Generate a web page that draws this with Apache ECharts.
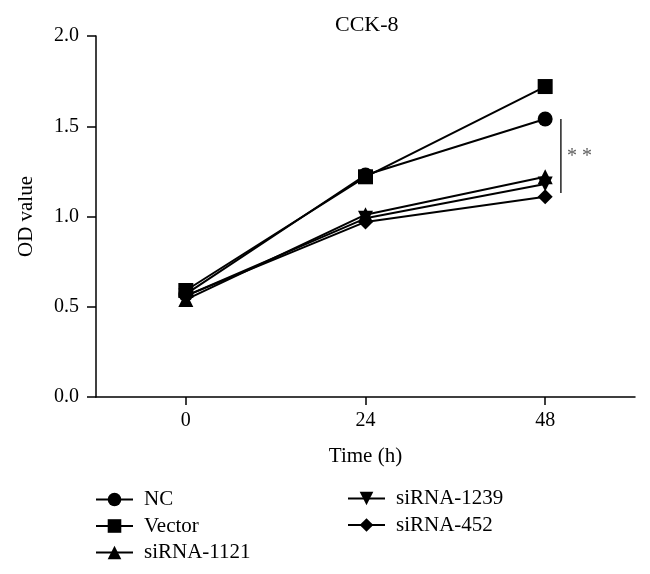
<!DOCTYPE html>
<html>
<head>
<meta charset="utf-8">
<script src="https://cdn.jsdelivr.net/npm/echarts@6/dist/echarts.min.js"></script>
<style>html,body{margin:0;padding:0;background:#fff}#c{width:650px;height:574px}</style>
</head>
<body>
<div id="c"></div>
<script>
const times = [0, 24, 48];
const xTicks = [0, 24, 48];
const yTicks = [0, 0.5, 1.0, 1.5, 2.0];
const seriesNames = ['NC', 'Vector', 'siRNA-1121', 'siRNA-1239', 'siRNA-452'];
const ncValues = [0.57, 1.23, 1.54];
const vectorValues = [0.59, 1.22, 1.72];
const si1121Values = [0.54, 1.01, 1.22];
const si1239Values = [0.56, 0.99, 1.18];
const si452Values = [0.56, 0.97, 1.11];
const bracketX = 50.1;
const bracketY = [1.54, 1.13];
const starsPoint = [52.6, 1.33];
const starsText = '* *';

const values = [ncValues, vectorValues, si1121Values, si1239Values, si452Values];
const symbols = ['circle', 'rect', 'triangle', 'path://M0,0 L10,0 L5,10 Z', 'diamond'];
const sizes = [15, 15, 15, 15, 15];
const font = '"Liberation Serif", "Times New Roman", serif';

const chart = echarts.init(document.getElementById('c'), null, {renderer: 'canvas'});
const series = seriesNames.map((n, i) => ({
  name: n,
  type: 'line',
  data: times.map((t, j) => [t, values[i][j]]),
  symbol: symbols[i],
  symbolSize: sizes[i],
  itemStyle: {color: '#000'},
  lineStyle: {color: '#000', width: 2},
  animation: false,
  z: 5 - i
}));
series.push({
  name: 'bracket',
  type: 'line',
  data: bracketY.map(v => [bracketX, v]),
  symbol: 'none',
  lineStyle: {color: '#222', width: 1.5},
  animation: false,
  silent: true
});
series.push({
  name: 'stars',
  type: 'scatter',
  data: [starsPoint],
  symbolSize: 0,
  label: {show: true, position: 'inside', formatter: starsText, fontFamily: font, fontSize: 20, color: '#333'},
  animation: false,
  silent: true
});

const legendText = {fontFamily: font, fontSize: 21, color: '#000', lineHeight: 20, padding: [0, 0, 0, 6]};
chart.setOption({
  backgroundColor: '#fff',
  textStyle: {fontFamily: font},
  title: {text: 'CCK-8', left: 330, top: 9, textStyle: {fontFamily: font, fontSize: 22, fontWeight: 'normal', color: '#000'}},
  grid: {left: 96, top: 36, right: 15, bottom: 177},
  xAxis: {
    type: 'value', min: -12, max: 60,
    axisLine: {lineStyle: {color: '#000', width: 1.5}},
    axisTick: {show: true, length: 8, customValues: xTicks, lineStyle: {color: '#000', width: 1.5}},
    axisLabel: {customValues: xTicks, margin: 14, fontFamily: font, fontSize: 20, color: '#000'},
    splitLine: {show: false},
    name: 'Time (h)', nameLocation: 'middle', nameGap: 49,
    nameTextStyle: {fontFamily: font, fontSize: 21, color: '#000'}
  },
  yAxis: {
    type: 'value', min: 0, max: 2, interval: 0.5,
    axisLine: {show: true, onZero: false, lineStyle: {color: '#000', width: 1.5}},
    axisTick: {show: true, length: 9, lineStyle: {color: '#000', width: 1.5}},
    axisLabel: {margin: 17, fontFamily: font, fontSize: 20, color: '#000', formatter: v => v.toFixed(1)},
    splitLine: {show: false},
    name: 'OD value', nameLocation: 'middle', nameGap: 59, nameRotate: 90,
    nameTextStyle: {fontFamily: font, fontSize: 21, color: '#000'}
  },
  legend: [
    {data: seriesNames.slice(0, 3), orient: 'vertical', left: 95, top: 489, padding: 0, itemWidth: 37, itemHeight: 17, itemGap: 5.5,
     textStyle: legendText},
    {data: seriesNames.slice(3), orient: 'vertical', left: 347, top: 488, padding: 0, itemWidth: 37, itemHeight: 17, itemGap: 5.5,
     textStyle: legendText}
  ],
  series: series
});
</script>
</body>
</html>
